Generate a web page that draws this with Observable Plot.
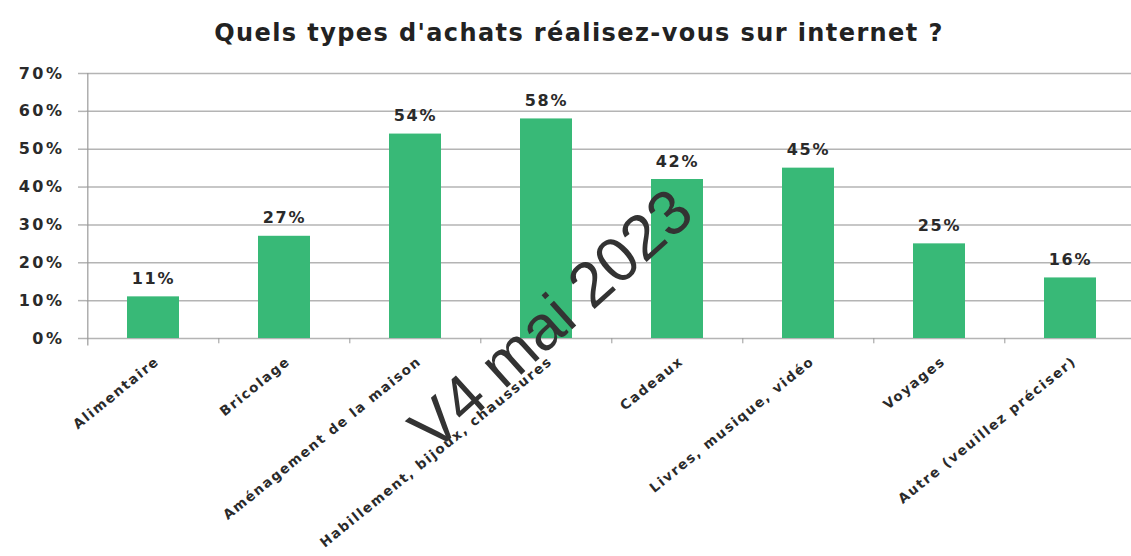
<!DOCTYPE html>
<html><head><meta charset="utf-8">
<script src="https://cdn.jsdelivr.net/npm/d3@7"></script>
<script src="https://cdn.jsdelivr.net/npm/@observablehq/plot@0.6"></script>
<style>
body{margin:0;background:#fff;}
#title{height:58px;box-sizing:border-box;padding-top:19px;padding-left:27px;text-align:center;font:bold 24px "DejaVu Sans";letter-spacing:1.4px;line-height:28px;color:#222;white-space:nowrap;}
#chart svg [aria-label="y-axis tick label"] text{letter-spacing:2.5px;}
#chart svg [aria-label="x-axis tick label"] text{letter-spacing:1.6px;}
#chart svg g[aria-label="text"] text{letter-spacing:1.8px;}
#chart svg g[aria-label="text"] ~ g[aria-label="text"] text{letter-spacing:0;}
</style></head><body>
<div id="title">Quels types d'achats réalisez-vous sur internet ?</div>
<div id="chart"></div>
<script>
const categories = ["Alimentaire","Bricolage","Aménagement de la maison","Habillement, bijoux, chaussures","Cadeaux","Livres, musique, vidéo","Voyages","Autre (veuillez préciser)"];
const values = [11, 27, 54, 58, 42, 45, 25, 16];
const yTicks = [0, 10, 20, 30, 40, 50, 60, 70];
const watermark = "V4 mai 2023";

const data = categories.map((c, i) => ({category: c, value: values[i]}));
const W = 1131, H = 498, x0 = 86, x1 = 1137;
const step = (x1 - x0) / categories.length;

const plot = Plot.plot({
  width: W, height: H,
  marginLeft: x0, marginRight: 0, marginTop: 15, marginBottom: 218,
  x: {domain: categories, range: [x0, x1], paddingInner: 0.6, paddingOuter: 0.3},
  y: {domain: [0, 70], range: [280, 15]},
  style: {fontFamily: "DejaVu Sans", color: "#222", background: "#fff", overflow: "visible"},
  marks: [
    Plot.gridY(yTicks, {stroke: "#b4b4b4", strokeOpacity: 1, strokeWidth: 1.5}),
    Plot.axisY(yTicks, {tickFormat: d => d + "%", tickSize: 8, tickPadding: 14, stroke: "#b4b4b4", strokeWidth: 1.5, fontSize: 16, fontWeight: "bold", fill: "#2a2a2a", label: null}),
    Plot.ruleX([categories[0]], {x: d => d, dx: -step / 2, y1: -2, y2: 70, stroke: "#9a9a9a", strokeWidth: 1.2}),
    Plot.ruleX(categories.slice(1), {x: d => d, dx: -step / 2, y1: 0, y2: -1.4, stroke: "#9a9a9a"}),
    Plot.barY(data, {x: "category", y: "value", fill: "#38b977"}),
    Plot.text(data, {x: "category", y: "value", text: d => d.value + "%", dy: -13, lineAnchor: "bottom", fontSize: 16, fontWeight: "bold", fill: "#2a2a2a"}),
    Plot.axisX({tickRotate: -39, tickSize: 0, tickPadding: 21, dx: 4, fontSize: 13.5, fontWeight: "bold", fill: "#2a2a2a", label: null}),
    Plot.text([watermark], {text: d => d, frameAnchor: "top-left", dx: 551 - x0, dy: (320 - 58) - 15, rotate: -42, textAnchor: "middle", lineAnchor: "middle", fontSize: 63, fontFamily: "Liberation Sans", fill: "#333"})
  ]
});
document.getElementById("chart").appendChild(plot);
</script>
</body></html>
